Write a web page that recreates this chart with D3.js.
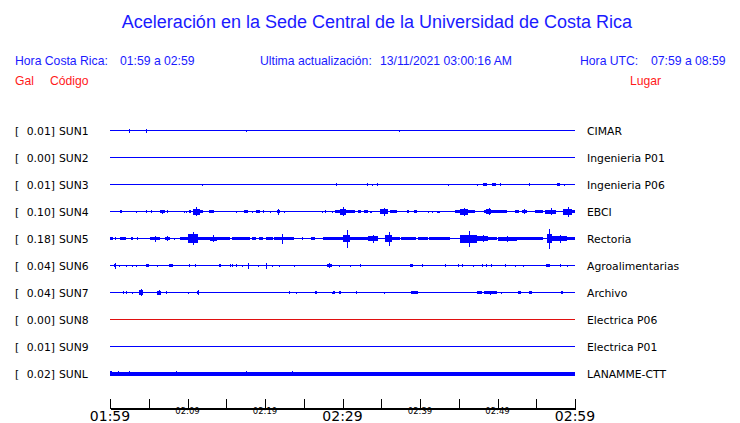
<!DOCTYPE html>
<html><head><meta charset="utf-8">
<script src="https://cdn.jsdelivr.net/npm/d3@7"></script>
<style>
html,body{margin:0;padding:0;background:#fff;}
svg{display:block;}
</style>
</head><body>
<svg id="chart" width="740" height="423"></svg>
<script>
// ---------------- DATA ----------------
const title = "Aceleración en la Sede Central de la Universidad de Costa Rica";
const codes = ["SUN1","SUN2","SUN3","SUN4","SUN5","SUN6","SUN7","SUN8","SUN9","SUNL"];
const gals = ["0.01","0.00","0.01","0.10","0.18","0.04","0.04","0.00","0.01","0.02"];
const places = ["CIMAR","Ingenieria P01","Ingenieria P06","EBCI","Rectoria","Agroalimentarias","Archivo","Electrica P06","Electrica P01","LANAMME-CTT"];
// background noise half-amplitude per station
const baseNoise = [0.5,0.5,0.5,0.5,0.5,0.5,0.5,0.5,0.5,2];
const traceColors = ["#0000ff","#0000ff","#0000ff","#0000ff","#0000ff","#0000ff","#0000ff","#e01010","#0000ff","#0000ff"];
const tickLabels = ["01:59","02:04","02:09","02:14","02:19","02:24","02:29","02:34","02:39","02:44","02:49","02:54","02:59"];
// events: [start minute, end minute, half-amplitude, peak half-amplitude]
const sun1 = [[2.4,2.4,2],[4.6,4.6,2],[17.6,17.6,1],[37.3,37.3,1]];
const sun2 = [];
const sun3 = [[11.9,11.9,1],[29.2,29.2,1.5],[33.1,33.1,1.5],[33.8,33.8,1],[34.4,34.4,1.5],[43.6,43.6,1],[47.4,47.4,1],[48.1,48.6,1.5],[49.3,49.8,1.5],[50.3,50.3,1.2],[54.1,54.1,1.2],[57.7,58.1,1.5],[58.6,58.6,1]];
const sun4 = [[1.3,1.6,1.5],[3.3,3.3,1],[4.7,4.7,1.2],[5.3,5.3,1.2],[6.4,7.1,1.5,2],[7.3,7.3,1.2],[9.5,9.5,1],[9.8,9.8,1],[10.2,10.4,1.2],[10.7,11.6,3,4.5],[11.6,12.0,1.5],[12.8,13.4,1.5],[16.3,16.3,1],[17.3,17.8,1.5],[18.3,18.3,1],[18.8,19.4,1.5],[19.7,19.9,1.2],[20.7,20.7,1],[21.5,21.9,1.5,3],[22.4,22.4,1],[27.3,27.3,1],[27.8,27.8,1.2],[28.6,28.6,1],[29.0,29.7,1.5],[29.7,30.5,3,4.5],[30.5,31.6,1.2],[32.0,32.4,1.2],[32.8,33.3,1.2],[33.5,33.8,1],[34.8,35.9,2.5,4],[36.1,37.0,1.2],[38.3,38.6,1.2],[39.2,39.6,1.2],[41.0,41.0,1],[41.5,41.5,1],[42.2,42.6,1],[44.5,45.2,1.5],[45.2,46.2,3,4],[46.2,47.1,1.5],[48.3,51.2,1.5],[48.5,49.2,2.5,3.5],[52.3,52.8,1.5],[53.1,53.8,1.5,2.5],[54.8,55.9,1.2],[56.1,57.6,2,3.5],[58.5,59.6,3,5],[59.6,60,1.5]];
const sun5 = [[0,0.4,1.5],[0.6,0.6,1.5],[1.3,2.1,1.5],[2.7,3.0,1.5],[3.5,3.5,1.2],[5.2,6.5,1.5,3],[7.1,7.7,1.5,2.5],[8.3,8.3,1],[9.0,10.0,1.5],[10.0,11.4,4.5,6.5],[11.4,12.9,1.5],[12.9,13.8,2,3.5],[13.8,15.5,1.5],[15.7,18.1,1.5],[18.3,18.8,1.5],[19.2,19.8,1.5],[20.1,21.0,1.5],[21.1,23.7,1.5],[22.2,22.2,5],[24.8,24.8,1.5],[25.9,26.4,1.5],[27.5,30.1,1.5],[30.1,31.0,3.5,9],[31.0,33.3,1.5],[33.3,34.6,2.5,4],[35.5,36.4,3.5,7],[36.4,37.4,1.5],[37.6,39.5,1.5],[39.8,41.0,1.5],[41.2,43.9,1.5],[45.2,47.4,4,8],[47.4,48.8,2.5,3.5],[48.8,49.9,1.5],[50.0,52.5,2,3],[52.5,55.9,1.5],[56.4,57.0,4.5,10],[57.0,59.0,2.5,4],[59.0,60,1.5]];
const sun6 = [[0.5,0.7,1.5,3],[1.2,1.2,1],[2.1,2.1,1],[2.8,2.8,1],[3.4,3.4,1],[4.6,5.0,1.5],[6.0,6.0,1],[7.6,8.1,1.5],[10.2,10.2,1.2],[11.0,11.0,1.2],[14.0,14.3,1.5],[15.5,15.5,1.2],[15.8,15.8,1.2],[16.3,16.3,1.2],[17.0,17.0,1],[17.8,17.8,3],[19.1,19.1,1],[20.1,20.2,1.5,3],[20.9,20.9,1],[21.8,21.8,1],[23.7,23.7,1],[28.0,28.6,1.5,2.5],[29.5,29.5,1],[31.0,31.0,1],[32.3,32.3,1.5],[38.7,39.1,1.5],[40.2,40.2,1.2],[43.2,43.2,1.2],[44.9,45.0,1.2],[45.4,45.5,1.2],[46.8,46.8,1],[48.0,48.0,1.2],[48.5,48.5,1.2],[49.2,49.2,1.2],[51.0,51.0,1.2],[52.3,52.3,1],[53.3,53.3,1],[56.3,56.8,1.5],[58.1,58.1,1.2],[59.0,59.0,1]];
const sun7 = [[1.7,1.8,1.2],[2.1,2.2,1.5],[2.8,2.8,1],[3.7,4.2,2.5,3.5],[6.0,6.6,2,2.5],[7.2,7.2,1.5],[10.0,10.0,1],[11.2,11.4,1.5,2.5],[15.7,15.7,0.8],[22.3,22.3,0.8],[23.1,23.1,1.5],[24.0,24.0,1],[26.5,26.7,1.5],[28.6,28.6,1],[28.8,29.0,1.5],[29.6,29.8,1.2],[31.7,31.7,1.2],[35.3,35.5,1],[38.9,39.7,1.5],[47.3,48.0,1.5],[48.2,49.9,1.5,2],[50.5,50.5,1],[51.6,51.6,0.8],[52.7,53.0,1.5],[54.1,54.5,1.5],[58.2,58.5,1.5]];
const sun8 = [];
const sun9 = [];
const sunl = [[0,0.3,2.5],[1.0,1.0,2.5],[2.5,2.5,2.5],[8.5,8.5,2.5],[17.5,17.5,2.5],[23.5,23.5,2.5]];
const events = [sun1,sun2,sun3,sun4,sun5,sun6,sun7,sun8,sun9,sunl];

// ---------------- CHART ----------------
const svg = d3.select("#chart");
const blueText = "#1a1aff", redText = "#ff1a1a";
const sans = "'Liberation Sans', Arial, sans-serif";
const dj = "'DejaVu Sans', sans-serif";

const x = d3.scaleLinear().domain([0,60]).range([110,575]);
const row = d3.scaleLinear().domain([0,9]).range([130.5,373.5]);
const amp = d3.scaleLinear().domain([0,10]).range([0,10]);

svg.append("text").attr("x",377).attr("y",28).attr("text-anchor","middle")
  .attr("font-family",sans).attr("font-size",18).attr("fill",blueText).text(title);

const hdr = [
  [15,"Hora Costa Rica:"],[120,"01:59 a 02:59"],
  [260,"Ultima actualización:"],[380,"13/11/2021 03:00:16 AM"],
  [580,"Hora UTC:"],[651,"07:59 a 08:59"]
];
svg.selectAll("text.hdr").data(hdr).join("text").attr("class","hdr")
  .attr("x",d=>d[0]).attr("y",65).attr("font-family",sans).attr("font-size",12.2)
  .attr("fill",blueText).text(d=>d[1]);
const hdr2 = [[15,"Gal"],[50,"Código"],[630,"Lugar"]];
svg.selectAll("text.hdr2").data(hdr2).join("text").attr("class","hdr2")
  .attr("x",d=>d[0]).attr("y",85).attr("font-family",sans).attr("font-size",12.2)
  .attr("fill",redText).text(d=>d[1]);

const rows = svg.selectAll("g.row").data(codes).join("g").attr("class","row");
rows.append("text").attr("x",15).attr("y",(d,i)=>row(i)+4).attr("font-family",dj)
  .attr("font-size",10.8).attr("fill","#000").text("[");
rows.append("text").attr("x",55).attr("y",(d,i)=>row(i)+4).attr("text-anchor","end").attr("font-family",dj)
  .attr("font-size",10.8).attr("fill","#000").text((d,i)=>gals[i]+"]");
rows.append("text").attr("x",59).attr("y",(d,i)=>row(i)+4).attr("font-family",dj)
  .attr("font-size",10.8).attr("fill","#000").text(d=>d);
rows.append("text").attr("x",587).attr("y",(d,i)=>row(i)+4).attr("font-family",dj)
  .attr("font-size",10.8).attr("fill","#000").text((d,i)=>places[i]);

// baseline traces
rows.append("rect").attr("shape-rendering","crispEdges")
  .attr("x",x(0)).attr("width",x(60)-x(0))
  .attr("y",(d,i)=>row(i)-Math.max(0.5,amp(baseNoise[i])))
  .attr("height",(d,i)=>2*Math.max(0.5,amp(baseNoise[i])))
  .attr("fill",(d,i)=>traceColors[i]);

// events
rows.each(function(d,i){
  const g = d3.select(this);
  const cy = row(i);
  g.selectAll("rect.ev").data(events[i]).join("rect").attr("class","ev")
    .attr("shape-rendering","crispEdges")
    .attr("x",e=>x(e[0]))
    .attr("width",e=>Math.max(1,x(e[1])-x(e[0])))
    .attr("y",e=>cy-amp(e[2])).attr("height",e=>2*amp(e[2]))
    .attr("fill",traceColors[i]);
  g.selectAll("rect.pk").data(events[i].filter(e=>e[3]!==undefined)).join("rect").attr("class","pk")
    .attr("shape-rendering","crispEdges")
    .attr("x",e=>x((e[0]+e[1])/2)).attr("width",1)
    .attr("y",e=>cy-amp(e[3])).attr("height",e=>2*amp(e[3]))
    .attr("fill",traceColors[i]);
});

// time axis
const tickVals = tickLabels.map((t,i)=>i*5);
const axis = d3.axisTop(x).tickValues(tickVals).tickSize(10).tickSizeOuter(0).tickFormat("");
const ax = svg.append("g").attr("transform","translate(0,408.5)").call(axis);
ax.selectAll("path,line").attr("stroke","#000").attr("stroke-width",1).attr("shape-rendering","crispEdges");
ax.append("line").attr("x1",x(0)).attr("x2",x(60)+1).attr("y1",0).attr("y2",0)
  .attr("stroke","#000").attr("stroke-width",1).attr("shape-rendering","crispEdges");

const shown = tickLabels.map((t,i)=>({t,i})).filter(d=>d.i%2===0);
svg.selectAll("text.tl").data(shown).join("text").attr("class","tl")
  .attr("x",d=>x(tickVals[d.i])).attr("y",d=>d.i%6===0?421:414)
  .attr("text-anchor","middle").attr("font-family",dj)
  .attr("font-size",d=>d.i%6===0?14:8.5).attr("fill","#000").text(d=>d.t);
</script>
</body></html>
